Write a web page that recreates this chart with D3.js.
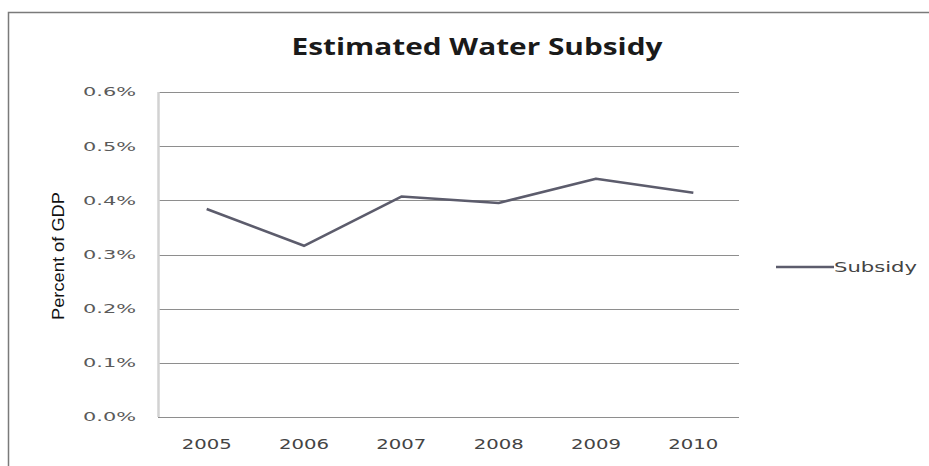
<!DOCTYPE html>
<html>
<head>
<meta charset="utf-8">
<script src="https://cdn.jsdelivr.net/npm/d3@7/dist/d3.min.js"></script>
<style>
  html, body { margin: 0; padding: 0; background: #fff; }
  svg { display: block; }
</style>
</head>
<body>
<svg id="chart" width="929" height="466"></svg>
<script>
const years = ["2005", "2006", "2007", "2008", "2009", "2010"];
const subsidy = [0.384, 0.316, 0.407, 0.395, 0.440, 0.414];
const yTicks = [0, 0.1, 0.2, 0.3, 0.4, 0.5, 0.6];
const yTickLabels = ["0.0%", "0.1%", "0.2%", "0.3%", "0.4%", "0.5%", "0.6%"];
const seriesName = "Subsidy";
const titleText = "Estimated Water Subsidy";
const yAxisTitle = "Percent of GDP";

const svg = d3.select("#chart");
const lineColor = "#5c5c6c";

// outer frame
svg.append("path")
  .attr("d", "M8.5,466 L8.5,12.5 L929,12.5")
  .attr("fill", "none").attr("stroke", "#7a7a7a").attr("stroke-width", 1.5);

const x = d3.scaleBand().domain(years).range([158, 742]);
const y = d3.scaleLinear().domain([0, 0.6]).range([417, 92]);

// gridlines
svg.append("g").selectAll("line").data(yTicks).join("line")
  .attr("x1", 158).attr("x2", 739)
  .attr("y1", d => Math.round(y(d)) + 0.5).attr("y2", d => Math.round(y(d)) + 0.5)
  .attr("stroke", "#8e8e8e").attr("stroke-width", 1);

// vertical axis line
svg.append("line")
  .attr("x1", 158.5).attr("x2", 158.5).attr("y1", y(0.6)).attr("y2", y(0))
  .attr("stroke", "#d2d2d2").attr("stroke-width", 2.5);

// y tick labels
svg.append("g").selectAll("text").data(yTicks).join("text")
  .attr("x", 136).attr("y", d => y(d))
  .attr("dy", "0.35em")
  .attr("text-anchor", "end")
  .attr("font-family", "DejaVu Sans")
  .attr("font-size", 12.5)
  .attr("fill", "#5a5a5a")
  .attr("textLength", 53).attr("lengthAdjust", "spacingAndGlyphs")
  .text((d, i) => yTickLabels[i]);

// x labels
svg.append("g").selectAll("text").data(years).join("text")
  .attr("x", d => x(d) + x.bandwidth() / 2).attr("y", 449)
  .attr("text-anchor", "middle")
  .attr("font-family", "DejaVu Sans")
  .attr("font-size", 14.5)
  .attr("fill", "#444")
  .attr("textLength", 50).attr("lengthAdjust", "spacingAndGlyphs")
  .text(d => d);

// line
const line = d3.line()
  .x((d, i) => x(years[i]) + x.bandwidth() / 2)
  .y(d => y(d));
svg.append("path").datum(subsidy)
  .attr("d", line)
  .attr("fill", "none").attr("stroke", lineColor)
  .attr("stroke-width", 2.6).attr("stroke-linejoin", "round");

// title
svg.append("text")
  .attr("x", 477).attr("y", 55)
  .attr("text-anchor", "middle")
  .attr("font-family", "Open Sans").attr("font-weight", "bold")
  .attr("font-size", 23)
  .attr("fill", "#1a1a1a")
  .attr("textLength", 371).attr("lengthAdjust", "spacingAndGlyphs")
  .text(titleText);

// y axis title
svg.append("text")
  .attr("transform", "translate(64,256) rotate(-90)")
  .attr("text-anchor", "middle")
  .attr("font-family", "Liberation Sans Narrow, Liberation Sans")
  .attr("font-size", 16)
  .attr("fill", "#111")
  .attr("textLength", 128).attr("lengthAdjust", "spacingAndGlyphs")
  .text(yAxisTitle);

// legend
svg.append("line")
  .attr("x1", 776).attr("x2", 834).attr("y1", 267).attr("y2", 267)
  .attr("stroke", lineColor).attr("stroke-width", 2.6);
svg.append("text")
  .attr("x", 834).attr("y", 267).attr("dy", "0.35em")
  .attr("font-family", "DejaVu Sans")
  .attr("font-size", 14)
  .attr("fill", "#444")
  .attr("textLength", 83).attr("lengthAdjust", "spacingAndGlyphs")
  .text(seriesName);
</script>
</body>
</html>
